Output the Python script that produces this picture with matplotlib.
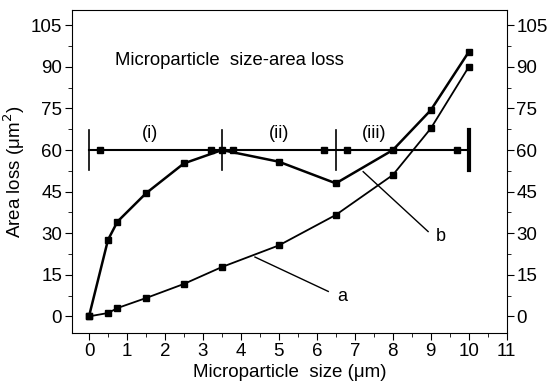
import numpy as np
import matplotlib.pyplot as plt
from matplotlib.ticker import MultipleLocator

plt.rcParams['font.family'] = ['Liberation Sans', 'DejaVu Sans']

# curve a (lower)
size_a = [0, 0.5, 0.75, 1.5, 2.5, 3.5, 5, 6.5, 8, 9, 10]
loss_a = [0, 1.2, 3, 6.6, 11.7, 17.8, 25.6, 36.6, 51, 67.8, 90]

# curve b (upper)
size_b = [0, 0.5, 0.75, 1.5, 2.5, 3.5, 5, 6.5, 8, 9, 10]
loss_b = [0, 27.6, 34.2, 44.4, 55.2, 60, 55.8, 48, 60, 74.4, 95.4]

# region divider line at 60
div_level = 60
div_x = [0, 3.5, 6.5, 10]
div_marks = [0.3, 3.2, 3.8, 6.2, 6.8, 9.7]
region_labels = ['(i)', '(ii)', '(iii)']
region_x = [1.6, 5.0, 7.5]

fig, ax = plt.subplots(figsize=(5.49, 3.89), dpi=100)
fig.subplots_adjust(left=0.131, right=0.923, top=0.974, bottom=0.144)

ax.plot(size_a, loss_a, color='black', lw=1.3, marker='s', ms=4.5)
ax.plot(size_b, loss_b, color='black', lw=1.8, marker='s', ms=5)

ax.plot([div_x[0], div_x[-1]], [div_level, div_level], color='black', lw=1.5)
ax.plot(div_marks, [div_level] * len(div_marks), ls='none', marker='s', ms=4.5, color='black')
for i, xv in enumerate(div_x):
    lw = 3 if i == len(div_x) - 1 else 1.2
    ax.plot([xv, xv], [div_level - 7.2, div_level + 7.2], color='black', lw=lw)
for lab, xv in zip(region_labels, region_x):
    ax.text(xv, 66, lab, ha='center', va='center', fontsize=13)

ax.text(0.68, 92.4, 'Microparticle  size-area loss', ha='left', va='center', fontsize=13.3)

# leaders
ax.plot([4.37, 6.3], [21.4, 9], color='black', lw=1)
ax.text(6.55, 7.3, 'a', ha='left', va='center', fontsize=13)
ax.plot([7.22, 8.93], [52.2, 30.6], color='black', lw=1)
ax.text(9.12, 28.8, 'b', ha='left', va='center', fontsize=13)

ax.set_xlim(-0.45, 11)
ax.set_ylim(-6, 110.5)
ax.xaxis.set_major_locator(MultipleLocator(1))
ax.xaxis.set_minor_locator(MultipleLocator(0.5))
ax.yaxis.set_major_locator(MultipleLocator(15))
ax.yaxis.set_minor_locator(MultipleLocator(7.5))
ax.set_xticks(np.arange(0, 12, 1))
ax.tick_params(which='both', direction='out', top=False, right=True, labelright=True, labelsize=13.5, pad=2)
ax.tick_params(which='major', length=5)
ax.tick_params(which='minor', length=3)
ax.set_xlabel('Microparticle  size (\u03bcm)', fontsize=13.5, labelpad=3)
ax.set_ylabel('Area loss (\u03bcm$^2$)', fontsize=13.5, labelpad=3)

plt.savefig('out.png')
